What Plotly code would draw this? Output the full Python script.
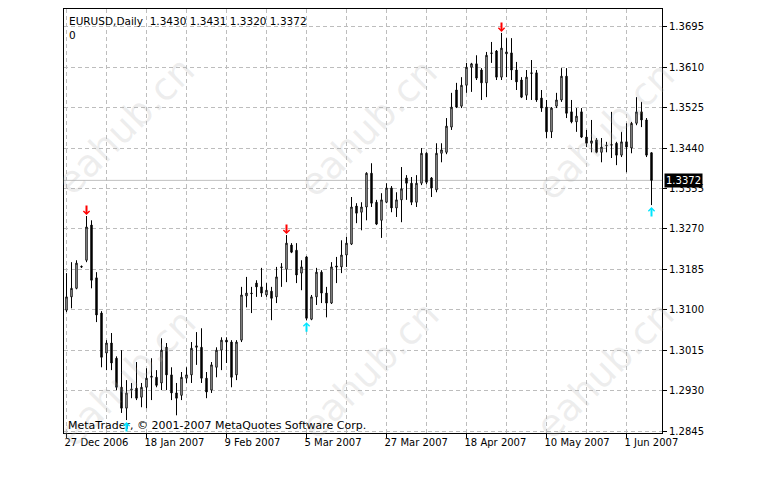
import plotly.graph_objects as go

symbol = "EURUSD"
timeframe = "Daily"

# bar index of labelled dates
label_bars = [0, 16, 32, 48, 64, 80, 96, 112]
date_labels = ["27 Dec 2006", "18 Jan 2007", "9 Feb 2007", "5 Mar 2007",
               "27 Mar 2007", "18 Apr 2007", "10 May 2007", "1 Jun 2007"]
grid_bars = [8, 24, 40, 56, 72, 88, 104]

y_ticks = [1.2845, 1.2930, 1.3015, 1.3100, 1.3185, 1.3270, 1.3355,
           1.3440, 1.3525, 1.3610, 1.3695]

opens = [
    1.3099, 1.3127, 1.3145, 1.3191, 1.3204, 1.3278, 1.3167, 1.3093, 1.3009, 1.3030,
    1.2998, 1.2937, 1.2893, 1.2931, 1.2935, 1.2916, 1.2937, 1.2958, 1.2958, 1.2946,
    1.3021, 1.2963, 1.2925, 1.2920, 1.2956, 1.2963, 1.3021, 1.3021, 1.2956, 1.2931,
    1.2979, 1.3015, 1.3036, 1.3032, 1.2963, 1.3036, 1.3129, 1.3135, 1.3156, 1.3148,
    1.3131, 1.3139, 1.3127, 1.3190, 1.3185, 1.3236, 1.3225, 1.3177, 1.3211, 1.3080,
    1.3127, 1.3179, 1.3135, 1.3114, 1.3192, 1.3190, 1.3215, 1.3238, 1.3318, 1.3305,
    1.3316, 1.3387, 1.3326, 1.3288, 1.3326, 1.3356, 1.3314, 1.3331, 1.3377, 1.3366,
    1.3326, 1.3366, 1.3429, 1.3377, 1.3352, 1.3429, 1.3431, 1.3484, 1.3562, 1.3528,
    1.3572, 1.3610, 1.3617, 1.3604, 1.3577, 1.3640, 1.3644, 1.3589, 1.3638, 1.3640,
    1.3604, 1.3583, 1.3551, 1.3598, 1.3598, 1.3545, 1.3526, 1.3474, 1.3528, 1.3541,
    1.3591, 1.3516, 1.3495, 1.3516, 1.3463, 1.3450, 1.3457, 1.3431, 1.3446, 1.3446,
    1.3450, 1.3425, 1.3453, 1.3440, 1.3492, 1.3516, 1.3499, 1.3430]

highs = [
    1.3177, 1.3200, 1.3204, 1.3193, 1.3297, 1.3288, 1.3179, 1.3097, 1.3036, 1.3051,
    1.3002, 1.3015, 1.2952, 1.2946, 1.2990, 1.2946, 1.2977, 1.2998, 1.2973, 1.3040,
    1.3030, 1.2979, 1.2946, 1.2969, 1.2979, 1.3032, 1.3053, 1.3061, 1.2969, 1.2990,
    1.3021, 1.3042, 1.3042, 1.3036, 1.3036, 1.3148, 1.3169, 1.3148, 1.3162, 1.3188,
    1.3156, 1.3148, 1.3190, 1.3198, 1.3257, 1.3240, 1.3240, 1.3204, 1.3213, 1.3131,
    1.3188, 1.3183, 1.3148, 1.3200, 1.3211, 1.3246, 1.3253, 1.3337, 1.3324, 1.3326,
    1.3389, 1.3408, 1.3331, 1.3345, 1.3366, 1.3360, 1.3347, 1.3400, 1.3383, 1.3379,
    1.3383, 1.3440, 1.3431, 1.3379, 1.3450, 1.3450, 1.3503, 1.3556, 1.3577, 1.3589,
    1.3619, 1.3619, 1.3635, 1.3608, 1.3642, 1.3663, 1.3646, 1.3682, 1.3671, 1.3671,
    1.3621, 1.3589, 1.3604, 1.3625, 1.3604, 1.3562, 1.3541, 1.3526, 1.3556, 1.3608,
    1.3608, 1.3541, 1.3524, 1.3524, 1.3478, 1.3499, 1.3461, 1.3461, 1.3453, 1.3516,
    1.3453, 1.3474, 1.3492, 1.3495, 1.3547, 1.3537, 1.3503, 1.3431]

lows = [
    1.3095, 1.3103, 1.3143, 1.3188, 1.3200, 1.3145, 1.3074, 1.2979, 1.2973, 1.2973,
    1.2931, 1.2883, 1.2868, 1.2914, 1.2910, 1.2895, 1.2893, 1.2910, 1.2937, 1.2931,
    1.2931, 1.2910, 1.2878, 1.2910, 1.2946, 1.2946, 1.2984, 1.2946, 1.2914, 1.2925,
    1.2958, 1.2973, 1.2988, 1.2937, 1.2952, 1.3032, 1.3105, 1.3093, 1.3127, 1.3127,
    1.3127, 1.3078, 1.3114, 1.3148, 1.3158, 1.3219, 1.3156, 1.3141, 1.3078, 1.3078,
    1.3110, 1.3114, 1.3084, 1.3112, 1.3156, 1.3177, 1.3190, 1.3236, 1.3282, 1.3267,
    1.3288, 1.3316, 1.3278, 1.3251, 1.3324, 1.3305, 1.3295, 1.3284, 1.3331, 1.3320,
    1.3316, 1.3362, 1.3364, 1.3337, 1.3347, 1.3410, 1.3427, 1.3478, 1.3524, 1.3524,
    1.3556, 1.3558, 1.3583, 1.3541, 1.3547, 1.3619, 1.3583, 1.3583, 1.3589, 1.3583,
    1.3562, 1.3545, 1.3541, 1.3541, 1.3537, 1.3516, 1.3461, 1.3461, 1.3524, 1.3537,
    1.3503, 1.3492, 1.3474, 1.3461, 1.3442, 1.3431, 1.3429, 1.3410, 1.3431, 1.3419,
    1.3404, 1.3421, 1.3389, 1.3429, 1.3488, 1.3484, 1.3421, 1.3320]

closes = [
    1.3127, 1.3145, 1.3198, 1.3190, 1.3274, 1.3162, 1.3089, 1.3000, 1.3030, 1.2988,
    1.2937, 1.2893, 1.2925, 1.2933, 1.2914, 1.2937, 1.2956, 1.2960, 1.2941, 1.3015,
    1.2963, 1.2925, 1.2914, 1.2958, 1.2963, 1.3019, 1.3024, 1.2956, 1.2927, 1.2984,
    1.3015, 1.3036, 1.3032, 1.2958, 1.3032, 1.3131, 1.3135, 1.3134, 1.3148, 1.3135,
    1.3141, 1.3124, 1.3169, 1.3189, 1.3240, 1.3221, 1.3173, 1.3190, 1.3082, 1.3127,
    1.3179, 1.3135, 1.3114, 1.3190, 1.3190, 1.3215, 1.3240, 1.3316, 1.3303, 1.3316,
    1.3387, 1.3324, 1.3280, 1.3331, 1.3356, 1.3314, 1.3331, 1.3354, 1.3366, 1.3326,
    1.3366, 1.3429, 1.3368, 1.3356, 1.3429, 1.3436, 1.3486, 1.3526, 1.3526, 1.3572,
    1.3610, 1.3617, 1.3587, 1.3577, 1.3635, 1.3639, 1.3589, 1.3650, 1.3642, 1.3604,
    1.3579, 1.3547, 1.3589, 1.3597, 1.3541, 1.3524, 1.3474, 1.3524, 1.3541, 1.3591,
    1.3513, 1.3495, 1.3507, 1.3463, 1.3450, 1.3455, 1.3431, 1.3442, 1.3445, 1.3447,
    1.3425, 1.3453, 1.3442, 1.3492, 1.3516, 1.3499, 1.3425, 1.3372]

# fractal markers
high_arrow_bars = [4, 44, 87]
low_arrow_bars = [12, 48, 117]

watermark_text = "eahub.cn"
watermark_pos = [(0.102, 0.725), (0.508, 0.72), (0.905, 0.713),
                 (0.105, 0.129), (0.512, 0.148), (0.905, 0.148)]

# ---- layout geometry (page has an 8px body margin) ----
W, H = 753, 488
ML, MT = 56, 1
PLOT_W, PLOT_H = 598, 424
MR = W - ML - PLOT_W
MB = H - MT - PLOT_H
y_min, y_max = 1.28408, 1.37323
x_min = -0.5
x_max = x_min + PLOT_W / 5.0

bars = list(range(len(opens)))
FONT = "DejaVu Sans"

fig = go.Figure()
fig.add_trace(go.Candlestick(
    x=bars, open=opens, high=highs, low=lows, close=closes,
    increasing=dict(line=dict(color="black", width=1), fillcolor="white"),
    decreasing=dict(line=dict(color="black", width=1), fillcolor="black"),
    whiskerwidth=0, showlegend=False, hoverinfo="skip"))

grid_col = "#bdbdbd"
fig.update_layout(
    width=W, height=H,
    margin=dict(l=ML, r=MR, t=MT, b=MB, pad=0),
    paper_bgcolor="white", plot_bgcolor="white",
    boxgap=0.6,
    font=dict(family=FONT, size=10, color="black"),
    xaxis=dict(range=[x_min, x_max], rangeslider=dict(visible=False),
               tickmode="array", tickvals=label_bars, ticktext=date_labels,
               ticklabelposition="outside right", ticklabelshift=-3,
               ticks="outside", ticklen=4, tickcolor="black",
               showgrid=True, gridcolor=grid_col, griddash="4px,3px", gridwidth=1,
               minor=dict(tickmode="array", tickvals=grid_bars, showgrid=True,
                          gridcolor=grid_col, griddash="4px,3px", ticks=""),
               showline=True, linecolor="black", linewidth=1, mirror=True,
               zeroline=False, fixedrange=True,
               tickfont=dict(family=FONT, size=10, color="black")),
    yaxis=dict(range=[y_min, y_max], side="right",
               tickmode="array", tickvals=y_ticks,
               ticktext=[f"{v:.4f}" for v in y_ticks],
               ticks="outside", ticklen=4, tickcolor="black",
               showgrid=True, gridcolor=grid_col, griddash="4px,3px", gridwidth=1,
               showline=True, linecolor="black", linewidth=1, mirror=True,
               zeroline=False, fixedrange=True,
               tickfont=dict(family=FONT, size=10, color="black")),
)

# current price line
fig.add_shape(type="line", xref="paper", yref="y", x0=0, x1=1,
              y0=closes[-1], y1=closes[-1], layer="between",
              line=dict(color="#c0c0c0", width=1))

annotations = []
for (wx, wy) in watermark_pos:
    annotations.append(dict(xref="paper", yref="paper", x=wx, y=wy,
                            xanchor="center", yanchor="middle", showarrow=False,
                            text=watermark_text, textangle=-45,
                            font=dict(family=FONT, size=38,
                                      color="rgba(175,175,175,0.22)")))

header = (f"{symbol},{timeframe}  {opens[-1]:.4f} {highs[-1]:.4f} "
          f"{lows[-1]:.4f} {closes[-1]:.4f}<br>0")
annotations.append(dict(xref="paper", yref="paper", x=0, y=1, xanchor="left",
                        yanchor="top", xshift=3, yshift=-4, showarrow=False,
                        align="left", text=header,
                        font=dict(family=FONT, size=10.5, color="black")))
annotations.append(dict(xref="paper", yref="paper", x=0, y=0, xanchor="left",
                        yanchor="bottom", xshift=2, yshift=-1, showarrow=False,
                        text="MetaTrader, © 2001-2007 MetaQuotes Software Corp.",
                        font=dict(family=FONT, size=11, color="black")))
annotations.append(dict(xref="paper", yref="y", x=1, y=closes[-1], xanchor="left",
                        yanchor="middle", xshift=2, showarrow=False,
                        text=f"{closes[-1]:.4f}", bgcolor="black", borderpad=1,
                        font=dict(family=FONT, size=10, color="white")))
# fractal arrows (chevron-headed, pointing at the bar's high / low)
for i in high_arrow_bars:
    annotations.append(dict(xref="x", yref="y", x=i, y=highs[i], text="",
                            showarrow=True, ax=0, ay=-12, standoff=1,
                            arrowhead=4, arrowsize=0.6, arrowwidth=2,
                            arrowcolor="#ff0000"))
for i in low_arrow_bars:
    annotations.append(dict(xref="x", yref="y", x=i, y=lows[i], text="",
                            showarrow=True, ax=0, ay=13, standoff=2,
                            arrowhead=4, arrowsize=0.6, arrowwidth=2,
                            arrowcolor="#00e5ff"))
fig.update_layout(annotations=annotations)

fig.write_html("out.html")
